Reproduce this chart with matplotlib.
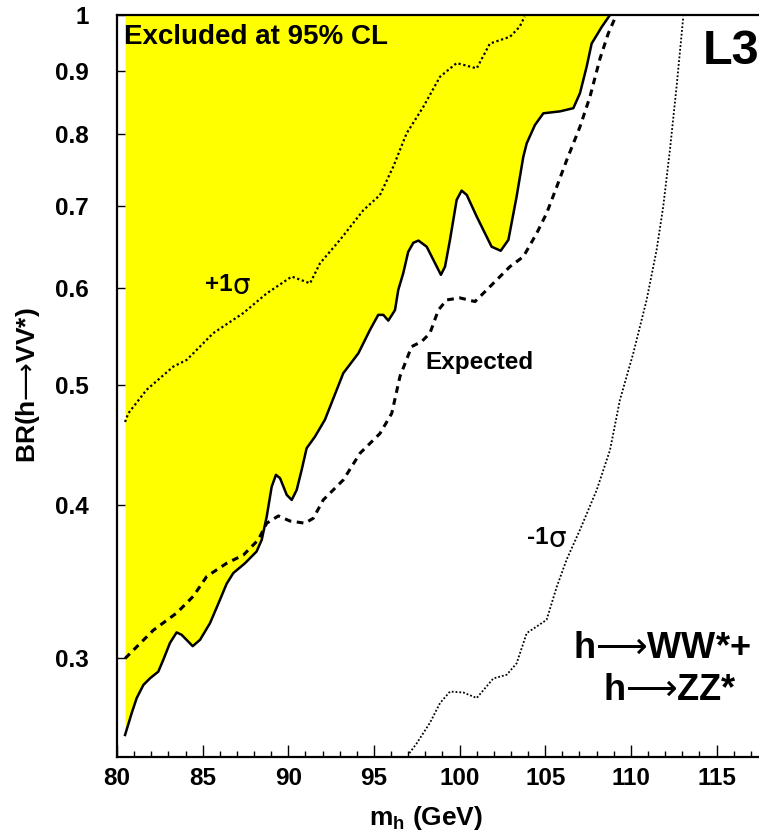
import matplotlib
matplotlib.use("Agg")
import matplotlib.pyplot as plt
from matplotlib.ticker import FixedLocator, MultipleLocator, NullLocator

plt.rcParams['font.family'] = ['Liberation Sans', 'DejaVu Sans']
plt.rcParams['mathtext.fontset'] = 'custom'
plt.rcParams['mathtext.rm'] = 'Liberation Sans'
plt.rcParams['mathtext.bf'] = 'Liberation Sans:bold'
plt.rcParams['mathtext.it'] = 'Liberation Sans:italic'
plt.rcParams['mathtext.sf'] = 'DejaVu Sans'

# Observado (limite al 95% CL)
mh_obs = [80.47, 80.86, 81.15, 81.54, 81.93, 82.41, 82.70, 83.09, 83.48, 83.77,
          84.42, 84.85, 85.43, 86.01, 86.4, 86.79, 87.47, 88.15, 88.45, 88.74,
          89.03, 89.28, 89.52, 89.91, 90.2, 90.49, 90.78, 91.07, 91.56, 92.14,
          93.21, 94.09, 94.77, 95.25, 95.55, 95.84, 96.23, 96.42, 96.71, 97.0,
          97.30, 97.6, 98.08, 98.47, 98.91, 99.15, 99.44, 99.83, 100.12, 100.42,
          101.0, 101.87, 102.4, 102.85, 103.33, 103.72, 103.92, 104.4, 104.89, 105.86,
          106.64, 107.03, 107.42, 107.71, 108.3, 108.78]
br_obs = [0.260, 0.2709, 0.2786, 0.2855, 0.2891, 0.2927, 0.2992, 0.3088, 0.315, 0.3136,
          0.307, 0.3107, 0.3205, 0.3348, 0.345, 0.352, 0.3585, 0.3665, 0.3746, 0.3912,
          0.4137, 0.423, 0.4203, 0.4074, 0.4036, 0.4112, 0.4269, 0.4446, 0.4544, 0.469,
          0.5116, 0.531, 0.5548, 0.5706, 0.5706, 0.5645, 0.5758, 0.5978, 0.6168, 0.642,
          0.653, 0.6557, 0.6482, 0.6324, 0.615, 0.6245, 0.6566, 0.7076, 0.72, 0.7141,
          0.6858, 0.6482, 0.6433, 0.6566, 0.712, 0.767, 0.7866, 0.814, 0.832, 0.835,
          0.840, 0.864, 0.908, 0.948, 0.978, 1.0]

# Esperado
mh_exp = [80.47, 82.12, 83.48, 84.45, 85.24, 86.4, 87.38, 88.25, 88.74, 89.42,
          90.1, 90.97, 91.46, 92.04, 93.21, 94.19, 95.35, 96.04, 96.52, 97.2,
          97.79, 98.27, 98.76, 99.25, 100.02, 100.9, 101.58, 102.94, 103.72, 104.5,
          105.08, 105.67, 106.25, 107.03, 107.61, 108.2, 108.68, 109.07]
br_exp = [0.300, 0.3163, 0.3266, 0.337, 0.3498, 0.3585, 0.3641, 0.3746, 0.3864, 0.3917,
          0.388, 0.3864, 0.390, 0.4036, 0.419, 0.4405, 0.457, 0.4746, 0.5085, 0.5377,
          0.5429, 0.5514, 0.5758, 0.5868, 0.589, 0.585, 0.5978, 0.6245, 0.6362, 0.6646,
          0.690, 0.725, 0.762, 0.8114, 0.858, 0.922, 0.966, 0.994]

# +1 sigma
mh_p1 = [80.47, 80.66, 81.73, 83.29, 84.07, 85.62, 87.37, 88.74, 90.2, 91.27,
         91.85, 93.02, 94.38, 95.35, 96.13, 96.91, 97.88, 98.86, 99.83, 101.0,
         101.77, 102.94, 103.5, 103.8]
br_p1 = [0.467, 0.4746, 0.496, 0.518, 0.5245, 0.5514, 0.5725, 0.594, 0.613, 0.6053,
         0.6284, 0.6566, 0.694, 0.714, 0.753, 0.8015, 0.842, 0.891, 0.914, 0.905,
         0.948, 0.960, 0.978, 0.997]

# -1 sigma
mh_m1 = [97.07, 97.5, 98.27, 98.86, 99.44, 100.22, 101.0, 101.97, 102.75, 103.33,
         103.92, 104.5, 105.08, 105.67, 106.25, 107.03, 108.0, 108.78, 109.36, 110.14,
         110.92, 111.5, 111.89, 112.28, 112.67, 113.06]
br_m1 = [0.2513, 0.256, 0.266, 0.276, 0.282, 0.2815, 0.2786, 0.289, 0.291, 0.2973,
         0.3146, 0.3185, 0.3225, 0.343, 0.361, 0.3817, 0.411, 0.443, 0.4866, 0.531,
         0.5868, 0.644, 0.699, 0.777, 0.875, 0.997]

yticks = [0.3, 0.4, 0.5, 0.6, 0.7, 0.8, 0.9, 1.0]
ytick_labels = ['0.3', '0.4', '0.5', '0.6', '0.7', '0.8', '0.9', '1']

fig = plt.figure(figsize=(7.59, 8.36), dpi=100)
ax = fig.add_axes([117 / 759, 1 - 757 / 836, 1 - 117 / 759, (757 - 15) / 836])

ax.set_yscale('log')
ax.set_xlim(80, 117.48)
ax.set_ylim(0.2495, 1.0)

# zona excluida
ax.fill_between(mh_obs, br_obs, 1.0, color='#ffff00', lw=0)
ax.plot(mh_obs, br_obs, color='black', lw=1.8, solid_joinstyle='round')
ax.plot(mh_exp, br_exp, color='black', lw=2.2, linestyle=(0, (2.2, 1.8)))
ax.plot(mh_p1, br_p1, color='black', lw=1.6, linestyle=(0, (1, 1.2)))
ax.plot(mh_m1, br_m1, color='black', lw=1.3, linestyle=(0, (1, 1.1)))

ax.yaxis.set_major_locator(FixedLocator(yticks))
ax.yaxis.set_minor_locator(NullLocator())
ax.set_yticklabels(ytick_labels)
ax.xaxis.set_major_locator(MultipleLocator(5))
ax.xaxis.set_minor_locator(MultipleLocator(1))

ax.tick_params(axis='x', which='major', direction='in', length=9, width=1.0,
               labelsize=17.5, pad=7, top=False)
ax.tick_params(axis='x', which='minor', direction='in', length=4, width=1.0, top=False)
ax.tick_params(axis='y', which='major', direction='in', length=5.5, width=1.0,
               labelsize=17.5, pad=20, right=False)
for lab in ax.get_xticklabels() + ax.get_yticklabels():
    lab.set_fontweight('bold')

for s in ['left', 'bottom', 'top']:
    ax.spines[s].set_linewidth(1.6)
ax.spines['right'].set_visible(False)

fig.text(426 / 759, 1 - 818 / 836, r'$\mathbf{m}_{\mathbf{h}}$ (GeV)', fontsize=19,
         fontweight='bold', ha='center', va='center')
fig.text(28 / 759, 1 - 385 / 836, r'$\mathbf{BR(h}\mathsf{⟶}\mathbf{VV{*})}$', fontsize=19,
         rotation=90, ha='center', va='center')

fig.text(124 / 759, 1 - 37 / 836, 'Excluded at 95% CL', fontsize=20, fontweight='bold',
         ha='left', va='center')
fig.text(731 / 759, 1 - 52 / 836, 'L3', fontsize=35, fontweight='bold', ha='center', va='center')

fig.text(233 / 759, 1 - 285 / 836, '+1', fontsize=17.5, fontweight='bold',
         ha='right', va='center')
fig.text(233 / 759, 1 - 286 / 836, 'σ', fontsize=20, family='DejaVu Sans',
         ha='left', va='center')
fig.text(479 / 759, 1 - 363 / 836, 'Expected', fontsize=17.5, fontweight='bold',
         ha='center', va='center')
fig.text(549 / 759, 1 - 538 / 836, '-1', fontsize=17.5, fontweight='bold',
         ha='right', va='center')
fig.text(549 / 759, 1 - 539 / 836, 'σ', fontsize=20, family='DejaVu Sans',
         ha='left', va='center')

fig.text(662 / 759, 1 - 648 / 836, r'$\mathbf{h}\mathsf{⟶}\mathbf{WW{*}{+}}$', fontsize=26,
         ha='center', va='center')
fig.text(670 / 759, 1 - 691 / 836, r'$\mathbf{h}\mathsf{⟶}\mathbf{ZZ{*}}$', fontsize=26,
         ha='center', va='center')

fig.savefig('out.png', dpi=100)
